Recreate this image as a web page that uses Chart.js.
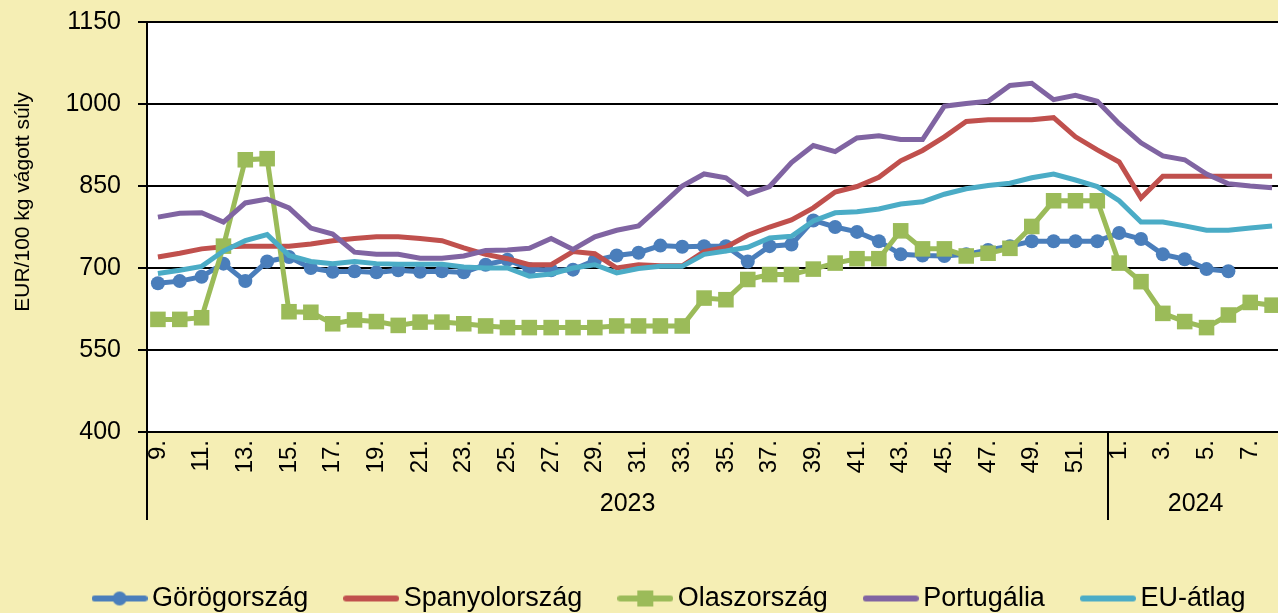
<!DOCTYPE html>
<html>
<head>
<meta charset="utf-8">
<script src="https://cdn.jsdelivr.net/npm/chart.js@4.4.1/dist/chart.umd.min.js"></script>
<style>
  html, body { margin: 0; padding: 0; background: #f5eeb4; overflow: hidden; }
  #wrap { width: 1278px; height: 613px; overflow: hidden; position: relative; }
  #chart { display: block; }
</style>
</head>
<body>
<div id="wrap"><canvas id="chart" width="1346" height="622"></canvas></div>
<script>
const FONT = '"Liberation Sans", Arial, sans-serif';

// weeks 9-52 of 2023, then 1-8 of 2024
const weeks = ['9.', '10.', '11.', '12.', '13.', '14.', '15.', '16.', '17.', '18.', '19.', '20.',
  '21.', '22.', '23.', '24.', '25.', '26.', '27.', '28.', '29.', '30.', '31.', '32.', '33.', '34.',
  '35.', '36.', '37.', '38.', '39.', '40.', '41.', '42.', '43.', '44.', '45.', '46.', '47.', '48.',
  '49.', '50.', '51.', '52.', '1.', '2.', '3.', '4.', '5.', '6.', '7.', '8.'];
const years = ['2023', '2024'];
const weeksPerYear = [44, 8];

const yTicks = [400, 550, 700, 850, 1000, 1150];

const gorog = [672, 676, 684, 708, 676, 712, 720, 700, 693, 694, 692, 696, 693, 694, 692, 706,
  715, 698, 696, 697, 714, 723, 728, 741, 739, 740, 740, 712, 740, 743, 787, 775, 766, 749, 725,
  723, 722, 725, 733, 740, 749, 749, 749, 749, 764, 753, 725, 716, 698, 694, null, null];
const spanyol = [720, 727, 735, 739, 740, 740, 740, 744, 750, 754, 757, 757, 754, 750, 737, 725,
  717, 706, 706, 730, 726, 700, 706, 704, 704, 730, 738, 760, 775, 788, 810, 839, 849, 866, 896,
  915, 940, 968, 971, 971, 971, 975, 940, 916, 894, 828, 868, 868, 868, 868, 868, 868];
const olasz = [606, 606, 609, 740, 898, 900, 620, 619, 598, 605, 602, 595, 601, 601, 598, 594,
  591, 591, 591, 591, 591, 594, 594, 594, 594, 645, 642, 679, 688, 688, 698, 709, 717, 717, 768,
  735, 735, 722, 727, 736, 776, 823, 823, 823, 709, 675, 617, 602, 591, 614, 637, 632];
const portugal = [793, 800, 801, 784, 819, 826, 810, 773, 762, 729, 725, 725, 718, 718, 722, 732,
  733, 736, 754, 734, 757, 769, 777, 813, 850, 872, 865, 835, 849, 893, 924, 913, 938, 942, 935,
  935, 996, 1001, 1005, 1034, 1038, 1008, 1016, 1005, 964, 929, 905, 898, 872, 854, 850, 847];
const euAtlag = [690, 696, 703, 731, 750, 761, 723, 712, 708, 712, 708, 707, 707, 707, 702, 700,
  700, 685, 689, 700, 706, 691, 699, 703, 703, 725, 731, 738, 755, 758, 786, 801, 803, 808, 817,
  821, 835, 845, 851, 855, 865, 872, 861, 849, 823, 784, 784, 777, 769, 769, 773, 777];

const colors = {
  gorog: '#4a7ebb',
  spanyol: '#c0504d',
  olasz: '#9bbb59',
  portugal: '#8064a2',
  eu: '#4bacc6'
};

// line + marker swatch for the legend
function legendIcon(color, marker) {
  const c = document.createElement('canvas');
  c.width = 56;
  c.height = 18;
  const g = c.getContext('2d');
  g.strokeStyle = color;
  g.fillStyle = color;
  g.lineWidth = 6;
  g.lineCap = 'round';
  g.beginPath();
  g.moveTo(3, 9);
  g.lineTo(53, 9);
  g.stroke();
  if (marker === 'circle') {
    g.beginPath();
    g.arc(28, 9, 7, 0, Math.PI * 2);
    g.fill();
  } else if (marker === 'rect') {
    g.fillRect(20, 1, 16, 16);
  }
  return c;
}

function series(label, data, color, order, marker) {
  return {
    label,
    data,
    borderColor: color,
    backgroundColor: color,
    borderWidth: 5,
    tension: 0,
    order,
    pointStyle: marker || 'circle',
    pointRadius: marker === 'circle' ? 7 : marker === 'rect' ? 11 : 0,
    pointBorderWidth: 0,
    legendIcon: legendIcon(color, marker),
    spanGaps: false
  };
}

// white plot area, year row under the week labels, y axis title
const frame = {
  id: 'frame',
  beforeDraw(chart) {
    const { ctx, chartArea: a } = chart;
    ctx.save();
    ctx.fillStyle = '#ffffff';
    ctx.fillRect(a.left, a.top, a.right - a.left, a.bottom - a.top);
    ctx.restore();
  },
  afterDraw(chart) {
    const { ctx, chartArea: a, scales: { x } } = chart;
    ctx.save();
    ctx.strokeStyle = '#000';
    ctx.lineWidth = 2;
    ctx.fillStyle = '#000';
    ctx.font = '25px ' + FONT;
    ctx.textAlign = 'center';
    ctx.textBaseline = 'middle';
    let start = 0;
    years.forEach((yr, k) => {
      const end = start + weeksPerYear[k];
      const left = start === 0 ? x.left : (x.getPixelForTick(start - 1) + x.getPixelForTick(start)) / 2;
      const right = end >= weeks.length ? x.right : (x.getPixelForTick(end - 1) + x.getPixelForTick(end)) / 2;
      ctx.beginPath();
      ctx.moveTo(Math.round(left), a.bottom);
      ctx.lineTo(Math.round(left), a.bottom + 88);
      ctx.stroke();
      ctx.fillText(yr, (left + right) / 2, a.bottom + 72);
      start = end;
    });
    ctx.font = '21px ' + FONT;
    ctx.translate(23, 202);
    ctx.rotate(-Math.PI / 2);
    ctx.fillText('EUR/100 kg vágott súly', 0, 0);
    ctx.restore();
  }
};

new Chart(document.getElementById('chart'), {
  type: 'line',
  data: {
    labels: weeks,
    datasets: [
      series('Görögország', gorog, colors.gorog, 4, 'circle'),
      series('Spanyolország', spanyol, colors.spanyol, 3),
      series('Olaszország', olasz, colors.olasz, 2, 'rect'),
      series('Portugália', portugal, colors.portugal, 1),
      series('EU-átlag', euAtlag, colors.eu, 0)
    ]
  },
  plugins: [frame],
  options: {
    responsive: false,
    animation: false,
    devicePixelRatio: 1,
    layout: { padding: { top: 22, left: 0, right: 0, bottom: 0 } },
    plugins: {
      tooltip: { enabled: false },
      legend: {
        position: 'bottom',
        labels: {
          usePointStyle: true,
          pointStyleWidth: 38,
          padding: 44,
          color: '#000',
          font: { family: FONT, size: 27 },
          sort: (a, b) => a.datasetIndex - b.datasetIndex,
          generateLabels(chart) {
            const items = Chart.defaults.plugins.legend.labels.generateLabels(chart);
            items.forEach(it => { it.pointStyle = chart.data.datasets[it.datasetIndex].legendIcon; });
            return items;
          }
        }
      }
    },
    scales: {
      x: {
        offset: true,
        grid: { display: false, drawTicks: false },
        border: { display: true, color: '#000', width: 2 },
        ticks: {
          autoSkip: false,
          maxRotation: 90,
          minRotation: 90,
          padding: 8,
          color: '#000',
          font: { family: FONT, size: 24 },
          callback: (v, i) => (i % 2 === 0 ? weeks[i] : '')
        },
        afterFit: s => { s.height = 109; }
      },
      y: {
        min: yTicks[0],
        max: yTicks[yTicks.length - 1],
        afterBuildTicks: s => { s.ticks = yTicks.map(v => ({ value: v })); },
        grid: { color: '#000', lineWidth: 2, tickLength: 9 },
        border: { display: true, color: '#000', width: 2 },
        ticks: {
          padding: 17,
          color: '#000',
          font: { family: FONT, size: 25 },
          callback: v => String(v)
        },
        afterFit: s => {
          s.width = 147;
          s.paddingTop = 0;
          s.paddingBottom = 0;
        }
      },
      y2: {
        position: 'right',
        grid: { display: false, drawTicks: false },
        border: { display: false },
        ticks: { display: false },
        afterFit: s => { s.width = 63; }
      }
    }
  }
});
</script>
</body>
</html>
